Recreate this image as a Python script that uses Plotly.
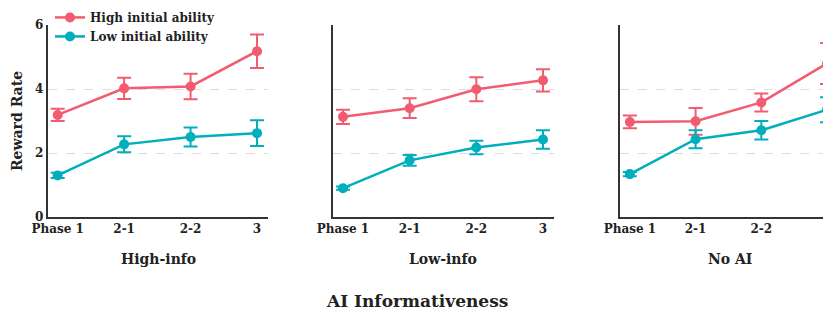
import plotly.graph_objects as go

phases = ["Phase 1", "2-1", "2-2", "3"]
panels = ["High-info", "Low-info", "No AI"]

high_mean = {
    "High-info": [3.19, 4.02, 4.08, 5.18],
    "Low-info": [3.13, 3.40, 3.99, 4.27],
    "No AI": [2.97, 2.99, 3.58, 4.80],
}
high_err = {
    "High-info": [0.19, 0.33, 0.40, 0.52],
    "Low-info": [0.22, 0.31, 0.375, 0.35],
    "No AI": [0.20, 0.42, 0.28, 0.64],
}
low_mean = {
    "High-info": [1.30, 2.27, 2.50, 2.62],
    "Low-info": [0.90, 1.77, 2.17, 2.42],
    "No AI": [1.34, 2.43, 2.71, 3.35],
}
low_err = {
    "High-info": [0.08, 0.25, 0.30, 0.40],
    "Low-info": [0.05, 0.17, 0.21, 0.29],
    "No AI": [0.07, 0.28, 0.29, 0.39],
}

PINK = "#F25C70"
TEAL = "#00AEBC"
FONT = "DejaVu Serif"
TXT = "#222"
# page body has an 8px margin; figure is sized to fit the 831x312 window
OFF = 8
W, H = 831 - OFF, 312 - OFF


def f(size):
    return dict(family=FONT, size=size, color=TXT, weight="bold")


def px(xref):
    return (xref - OFF) / W


fig = go.Figure()
domains = [(px(47.7), px(268)), (px(333), px(554)), (px(620), 1.0)]
ranges = [[-0.15, 3.165], [-0.15, 3.165], [-0.15, 3.06]]
title_x = [px(158), px(443), px(730)]

for i, p in enumerate(panels):
    ax = "" if i == 0 else str(i + 1)
    for name, mean, err, col in [
        ("High initial ability", high_mean, high_err, PINK),
        ("Low initial ability", low_mean, low_err, TEAL),
    ]:
        fig.add_trace(go.Scatter(
            x=list(range(len(phases))), y=mean[p],
            error_y=dict(type="data", array=err[p], color=col, thickness=2, width=7),
            mode="lines+markers",
            line=dict(color=col, width=2.5),
            marker=dict(color=col, size=10),
            name=name, showlegend=(i == 0),
            xaxis="x" + ax, yaxis="y" + ax,
            cliponaxis=False,
        ))
    fig.add_annotation(
        text=p, x=title_x[i], xref="paper", y=-0.219, yref="paper", showarrow=False,
        xanchor="center", yanchor="middle", font=f(14),
    )
    axis_common = dict(showline=True, linecolor="#333", linewidth=1.8, zeroline=False,
                       ticks="", automargin=False)
    fig.update_layout(**{
        "xaxis" + ax: dict(
            domain=list(domains[i]), range=ranges[i],
            tickmode="array", tickvals=list(range(len(phases))), ticktext=phases,
            showgrid=False, anchor="y" + ax, tickfont=f(12),
            **axis_common,
        ),
        "yaxis" + ax: dict(
            range=[0, 6], tickvals=[0, 2, 4, 6], anchor="x" + ax,
            showgrid=True, gridcolor="#dddddd", griddash="dash", gridwidth=1,
            showticklabels=(i == 0), tickfont=f(12),
            title=dict(text="Reward Rate", font=f(14), standoff=9) if i == 0 else None,
            **axis_common,
        ),
    })

fig.add_annotation(
    text="AI Informativeness", x=px(417), xref="paper", y=-0.4375, yref="paper",
    showarrow=False, xanchor="center", yanchor="middle", font=f(17),
)

fig.update_layout(
    width=W, height=H,
    margin=dict(l=0, r=0, t=25 - OFF, b=95, autoexpand=False),
    plot_bgcolor="white", paper_bgcolor="white",
    font=dict(family=FONT, color=TXT),
    legend=dict(
        x=px(50), y=1.115, xanchor="left", yanchor="top",
        bgcolor="rgba(0,0,0,0)", font=f(12),
        tracegroupgap=0, itemwidth=30,
    ),
)

fig.write_html("out.html")
